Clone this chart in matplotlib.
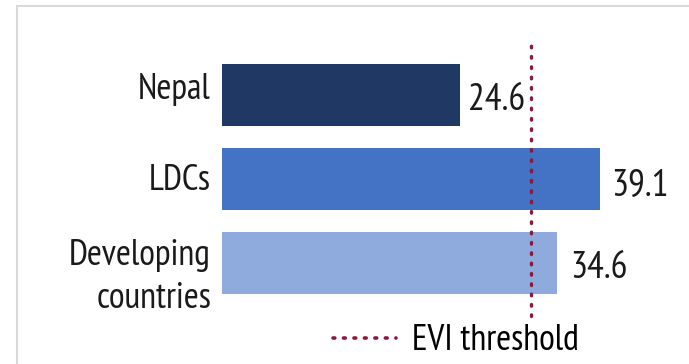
import matplotlib
matplotlib.use("Agg")
import matplotlib.pyplot as plt
from matplotlib.patches import Rectangle
from matplotlib.lines import Line2D
import matplotlib.transforms as mtransforms

categories = ["Nepal", "LDCs", "Developing\ncountries"]
values = [24.6, 39.1, 34.6]
value_labels = ["24.6", "39.1", "34.6"]
colors = ["#203864", "#4472C4", "#8FAADC"]
threshold = 32
threshold_label = "EVI threshold"

W, H = 689, 364
fig = plt.figure(figsize=(W / 100, H / 100), dpi=100)
FONT = ["PT Sans Narrow", "DejaVu Sans"]
TXT = "#1a1a1a"
FS = 26
LINE_C = "#8B1A3A"

# frame
fig.patches.append(Rectangle((17 / W, -0.05), 1.0, 1 - 6 / H + 0.05, transform=fig.transFigure,
                             fill=False, edgecolor="#D9D9D9", lw=1.5))

ax_left, ax_right = 222 / W, (222 + 45 * 9.67) / W
ax_top, ax_bot = 1 - 42 / H, 1 - 316 / H
ax = fig.add_axes([ax_left, ax_bot, ax_right - ax_left, ax_top - ax_bot])
ax.set_xlim(0, 45)
ax.set_ylim(2 + 53 / 84, -53 / 84)

ypos = list(range(len(categories)))
ax.barh(ypos, values, height=0.73, color=colors)
val_dx = [0.8, 1.2, 1.4]
val_dy = [0.06, 0.09, 0.06]
for y, v, t, dx, dy in zip(ypos, values, value_labels, val_dx, val_dy):
    ax.text(v + dx, y + dy, t, va="center", ha="left", fontsize=FS + 1, family=FONT, color=TXT)

ax.axvline(threshold, ymin=0, ymax=1.0, color=LINE_C, lw=2.4, linestyle=(0, (0.5, 2.6)),
           dash_capstyle="round", clip_on=False)

# category labels
trans = mtransforms.blended_transform_factory(fig.transFigure, ax.transData)
lab_off = [-0.07, 0.02, 0.17]
for y, c, o in zip(ypos, categories, lab_off):
    fig.text(211 / W, y + o, c, transform=trans, ha="right", va="center", fontsize=FS,
             family=FONT, color=TXT, linespacing=1.38, multialignment="right")
ax.set_yticks([])
ax.set_xticks([])
for s in ax.spines.values():
    s.set_visible(False)
ax.patch.set_alpha(0)

# legend
h = Line2D([0], [0], color=LINE_C, lw=2.6, linestyle=(0, (0.5, 2.4)), dash_capstyle="round")
fig.legend([h], [threshold_label], loc="center", bbox_to_anchor=(456 / W, 1 - 341 / H),
           frameon=False, prop={"family": FONT, "size": FS}, handlelength=1.75, handletextpad=0.45,
           borderpad=0)

fig.savefig("out.png", dpi=100)
